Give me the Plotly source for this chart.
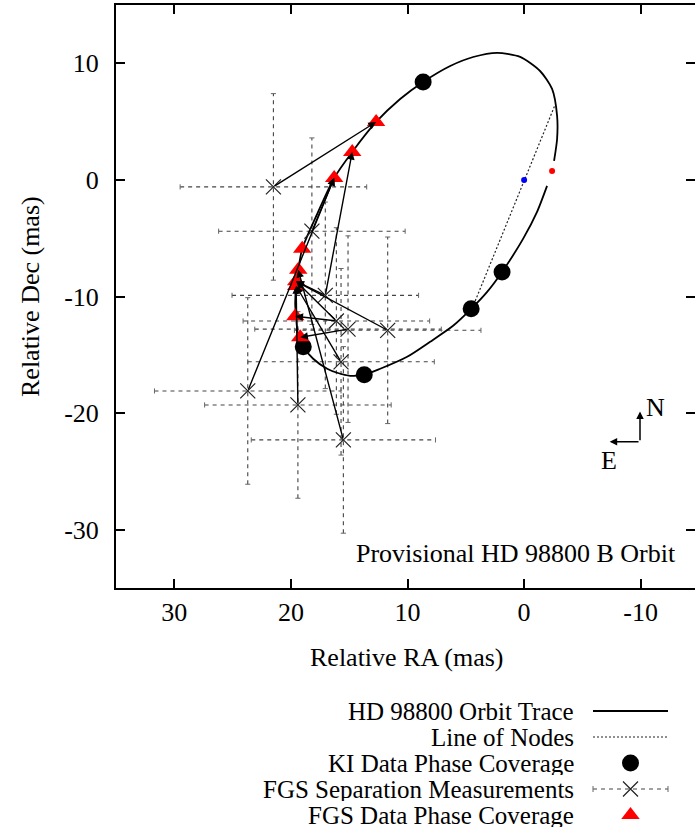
import plotly.graph_objects as go

# ---------------- data ----------------
# orbit trace (relative RA, relative Dec in mas)
orbit_ra = [-1.97, -1.11, 0.09, 1.89, 3.17, 4.54, 6.09, 8.06, 10.03, 12.34, 13.71, 14.91,
            16.03, 16.89, 18.09, 18.94, 19.37, 19.54, 19.63, 19.54, 19.37, 19.03, 17.74,
            16.29, 14.74, 12.69, 10.63, 8.66, 6.34, 4.37, 2.31, 0.34, -1.37, -2.40, -2.83,
            -2.83, -2.57]
orbit_dec = [-0.51, -2.74, -5.06, -7.89, -9.60, -11.06, -12.51, -13.88, -15.17, -16.20,
             -16.71, -16.80, -16.54, -16.20, -15.34, -14.31, -13.46, -11.91, -10.63, -8.91,
             -7.71, -5.91, -2.91, 0.17, 2.40, 4.97, 6.94, 8.40, 9.77, 10.54, 10.90, 10.55,
             9.34, 7.80, 5.49, 3.51, 1.63]

# line of nodes
nodes_ra = [-2.6, 4.2]
nodes_dec = [6.3, -10.4]

# KI data phase coverage
ki_ra = [8.66, 1.89, 4.54, 13.71, 18.94]
ki_dec = [8.40, -7.89, -11.06, -16.71, -14.31]

# FGS separation measurements with errors
fgs_ra = [21.5, 18.2, 17.05, 16.1, 15.1, 11.7, 15.7, 23.7, 19.4, 15.5]
fgs_dec = [-0.6, -4.4, -9.9, -12.1, -12.8, -12.9, -15.6, -18.1, -19.3, -22.3]
fgs_err_ra = [8.0, 8.0, 8.0, 8.0, 8.0, 8.0, 8.0, 8.0, 8.0, 7.9]
fgs_err_dec = [8.0, 8.0, 8.0, 8.0, 8.0, 8.0, 8.0, 8.0, 8.0, 8.0]

# FGS data phase coverage (points on the orbit)
ph_ra = [12.69, 14.74, 16.29, 19.03, 19.37, 19.55, 19.55, 19.62, 19.2]
ph_dec = [4.97, 2.40, 0.17, -5.91, -7.71, -8.7, -9.1, -11.7, -13.5]

# arrows: (measurement index, phase index)
arrow_from = [0, 2, 7, 1, 2, 5, 6, 9, 8, 3, 3, 4]
arrow_to = [0, 1, 2, 2, 5, 5, 6, 4, 6, 7, 5, 8]

# primary and periastron marks
primary = (0.0, 0.0)
periastron = (-2.4, 0.77)

x_ticks = [30, 20, 10, 0, -10]
y_ticks = [10, 0, -10, -20, -30]

legend_labels = ["HD 98800 Orbit Trace", "Line of Nodes", "KI Data Phase Coverage",
                 "FGS Separation Measurements", "FGS Data Phase Coverage"]

# ---------------- layout geometry ----------------
W, H = 695, 834
PL, PR, PT, PB = 116, 699, 5, 588           # plot frame in pixels (right edge just off-page)
XR = (35.0, -15.0)
YR = (-35.0, 15.0)
x_vis_right = XR[0] + (XR[1] - XR[0]) * (W - PL) / (PR - PL)

FONT = "Liberation Serif"
FS = 26
FS_LEG = 25

fig = go.Figure()

# error bars (dashed)
hx, hy, vx, vy = [], [], [], []
cx, cy = [], []
cap = 0.22
for x, y, ex, ey in zip(fgs_ra, fgs_dec, fgs_err_ra, fgs_err_dec):
    hx += [x + ex, x - ex, None]
    hy += [y, y, None]
    vx += [x, x, None]
    vy += [y - ey, y + ey, None]
    for xe in (x - ex, x + ex):
        cx += [xe, xe, None]
        cy += [y - cap, y + cap, None]
    for ye in (y - ey, y + ey):
        cx += [x - cap, x + cap, None]
        cy += [ye, ye, None]

errstyle = dict(color="#444444", width=1.1, dash="4px,4px")
fig.add_trace(go.Scatter(x=hx, y=hy, mode="lines", line=errstyle, hoverinfo="skip"))
fig.add_trace(go.Scatter(x=vx, y=vy, mode="lines", line=errstyle, hoverinfo="skip"))
fig.add_trace(go.Scatter(x=cx, y=cy, mode="lines", line=dict(color="#666666", width=1), hoverinfo="skip"))

# orbit trace
fig.add_trace(go.Scatter(x=orbit_ra, y=orbit_dec, mode="lines",
                         line=dict(color="black", width=1.8, shape="spline", smoothing=0.7)))
# line of nodes
fig.add_trace(go.Scatter(x=nodes_ra, y=nodes_dec, mode="lines",
                         line=dict(color="#222222", width=1.2, dash="2px,2px")))
# FGS measurement markers
fig.add_trace(go.Scatter(x=fgs_ra, y=fgs_dec, mode="markers",
                         marker=dict(symbol="x-thin-open", size=15, color="#222222",
                                     line=dict(color="#222222", width=1.2))))
# KI points
fig.add_trace(go.Scatter(x=ki_ra, y=ki_dec, mode="markers",
                         marker=dict(symbol="circle", size=17, color="black")))
# primary / periastron
fig.add_trace(go.Scatter(x=[primary[0]], y=[primary[1]], mode="markers",
                         marker=dict(symbol="circle", size=6, color="blue")))
fig.add_trace(go.Scatter(x=[periastron[0]], y=[periastron[1]], mode="markers",
                         marker=dict(symbol="circle", size=6, color="red")))

annotations = []
for i, j in zip(arrow_from, arrow_to):
    annotations.append(dict(x=ph_ra[j], y=ph_dec[j], ax=fgs_ra[i], ay=fgs_dec[i],
                            xref="x", yref="y", axref="x", ayref="y", text="",
                            showarrow=True, arrowhead=2, arrowsize=1.1, arrowwidth=1.4,
                            arrowcolor="black", standoff=0))

# phase coverage triangles
fig.add_trace(go.Scatter(x=ph_ra, y=ph_dec, mode="markers",
                         marker=dict(symbol="triangle-up", size=16, color="red")))

# compass
corner = (-9.94, -22.46)
annotations.append(dict(x=corner[0], y=corner[1] + 2.6, ax=corner[0], ay=corner[1],
                        xref="x", yref="y", axref="x", ayref="y", text="", showarrow=True,
                        arrowhead=2, arrowsize=1, arrowwidth=1.5, arrowcolor="black", standoff=0))
annotations.append(dict(x=corner[0] + 2.6, y=corner[1], ax=corner[0], ay=corner[1],
                        xref="x", yref="y", axref="x", ayref="y", text="", showarrow=True,
                        arrowhead=2, arrowsize=1, arrowwidth=1.5, arrowcolor="black", standoff=0))
annotations.append(dict(x=corner[0] - 1.3, y=corner[1] + 2.9, xref="x", yref="y", text="N",
                        showarrow=False, font=dict(family=FONT, size=FS, color="black")))
annotations.append(dict(x=corner[0] + 2.7, y=corner[1] - 1.6, xref="x", yref="y", text="E",
                        showarrow=False, font=dict(family=FONT, size=FS, color="black")))

# in-plot label
annotations.append(dict(x=678, y=553, xref="x3", yref="y3", text="Provisional HD 98800 B Orbit",
                        showarrow=False, xanchor="right", yanchor="middle",
                        font=dict(family=FONT, size=FS, color="black")))

# axis titles
annotations.append(dict(x=407, y=657, xref="x3", yref="y3", text="Relative RA (mas)",
                        showarrow=False, xanchor="center", yanchor="middle",
                        font=dict(family=FONT, size=FS, color="black")))
annotations.append(dict(x=30, y=297, xref="x3", yref="y3", text="Relative Dec (mas)", textangle=-90,
                        showarrow=False, xanchor="center", yanchor="middle",
                        font=dict(family=FONT, size=FS, color="black")))

# ---------------- custom legend (text left of samples, like the reference) ----------------
leg_y0, leg_dy = 711, 26
leg_text_x, samp_x0, samp_x1 = 576, 593, 668
samp_xc = (samp_x0 + samp_x1) / 2
rows = [leg_y0 + k * leg_dy for k in range(len(legend_labels))]
for lab, ry in zip(legend_labels, rows):
    annotations.append(dict(x=leg_text_x, y=ry, xref="x3", yref="y3", text=lab, showarrow=False,
                            xanchor="right", yanchor="middle", height=24, valign="middle",
                            font=dict(family=FONT, size=FS_LEG, color="black")))

fig.add_trace(go.Scatter(x=[samp_x0, samp_x1], y=[rows[0]] * 2, mode="lines", xaxis="x3", yaxis="y3",
                         line=dict(color="black", width=1.8)))
fig.add_trace(go.Scatter(x=[samp_x0, samp_x1], y=[rows[1]] * 2, mode="lines", xaxis="x3", yaxis="y3",
                         line=dict(color="#222222", width=1.2, dash="2px,2px")))
fig.add_trace(go.Scatter(x=[samp_xc], y=[rows[2]], mode="markers", xaxis="x3", yaxis="y3",
                         marker=dict(symbol="circle", size=17, color="black")))
fig.add_trace(go.Scatter(x=[samp_x0, samp_x1], y=[rows[3]] * 2, mode="lines", xaxis="x3", yaxis="y3",
                         line=errstyle))
fig.add_trace(go.Scatter(x=[samp_x0, samp_x0, None, samp_x1, samp_x1],
                         y=[rows[3] - 3, rows[3] + 3, None, rows[3] - 3, rows[3] + 3],
                         mode="lines", xaxis="x3", yaxis="y3", line=dict(color="#666666", width=1)))
fig.add_trace(go.Scatter(x=[samp_xc], y=[rows[3]], mode="markers", xaxis="x3", yaxis="y3",
                         marker=dict(symbol="x-thin-open", size=15, color="#222222",
                                     line=dict(color="#222222", width=1.2))))
fig.add_trace(go.Scatter(x=[samp_xc], y=[rows[4]], mode="markers", xaxis="x3", yaxis="y3",
                         marker=dict(symbol="triangle-up", size=16, color="red")))

tickfont = dict(family=FONT, size=FS, color="black")
fig.update_layout(
    width=W, height=H,
    margin=dict(l=0, r=0, t=0, b=0),
    paper_bgcolor="white", plot_bgcolor="rgba(0,0,0,0)",
    showlegend=False,
    annotations=annotations,
    xaxis=dict(domain=[PL / W, 1.0], range=[XR[0], x_vis_right], anchor="y",
               tickvals=x_ticks, ticktext=[str(v) for v in x_ticks],
               ticks="inside", ticklen=9, tickwidth=1.5, tickcolor="black",
               showline=True, linecolor="black", linewidth=2, mirror="ticks",
               showgrid=False, zeroline=False, tickfont=tickfont, ticklabelstandoff=0),
    yaxis=dict(domain=[1 - PB / H, 1 - PT / H], range=list(YR), anchor="x",
               tickvals=y_ticks, ticktext=[str(v) for v in y_ticks],
               ticks="inside", ticklen=9, tickwidth=1.5, tickcolor="black",
               showline=True, linecolor="black", linewidth=2, mirror=False,
               showgrid=False, zeroline=False, tickfont=tickfont, ticklabelstandoff=10),
    yaxis2=dict(domain=[1 - PB / H, 1 - PT / H], range=list(YR), overlaying="y", side="right",
                anchor="x", tickvals=y_ticks, ticks="inside", ticklen=9, tickwidth=1.5,
                tickcolor="black", showticklabels=False, showline=False, showgrid=False,
                zeroline=False),
    xaxis3=dict(domain=[0, 1], range=[0, W], anchor="y3", visible=False, fixedrange=True),
    yaxis3=dict(domain=[0, 1], range=[H, 0], anchor="x3", visible=False, fixedrange=True),
)
# dummy trace to activate the right-hand tick axis
fig.add_trace(go.Scatter(x=[None], y=[None], yaxis="y2", xaxis="x", showlegend=False))

fig.write_html("out.html")
